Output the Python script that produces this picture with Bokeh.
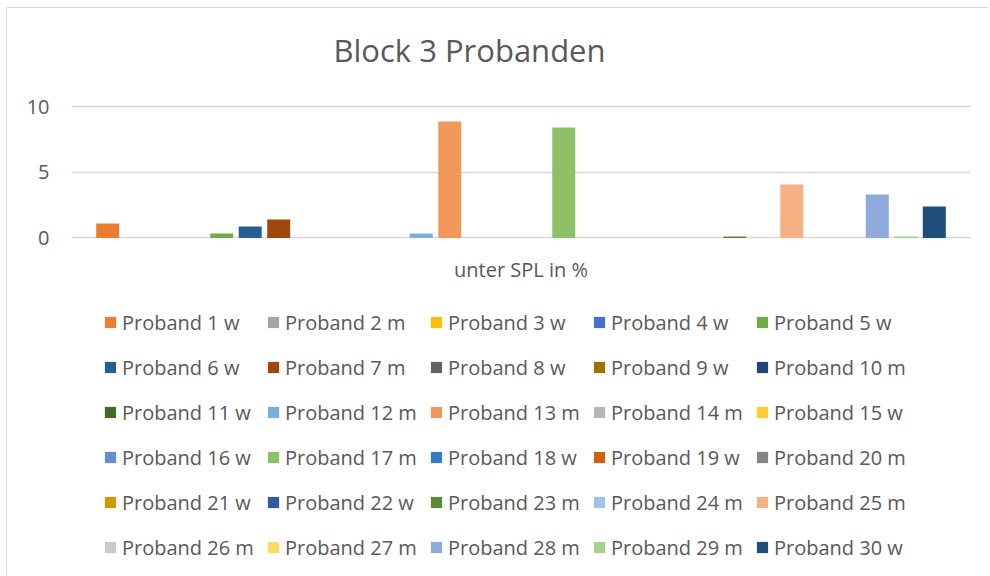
from bokeh.plotting import figure
from bokeh.models import Range1d, FixedTicker, Legend, LegendItem, Label
from bokeh.embed import file_html
from bokeh.resources import INLINE

title_text = "Block 3 Probanden"
categories = ["unter SPL in %"]
probanden = [
    "Proband 1 w", "Proband 2 m", "Proband 3 w", "Proband 4 w", "Proband 5 w",
    "Proband 6 w", "Proband 7 m", "Proband 8 w", "Proband 9 w", "Proband 10 m",
    "Proband 11 w", "Proband 12 m", "Proband 13 m", "Proband 14 m", "Proband 15 w",
    "Proband 16 w", "Proband 17 m", "Proband 18 w", "Proband 19 w", "Proband 20 m",
    "Proband 21 w", "Proband 22 w", "Proband 23 m", "Proband 24 m", "Proband 25 m",
    "Proband 26 m", "Proband 27 m", "Proband 28 m", "Proband 29 m", "Proband 30 w",
]
values = [
    1.1, 0, 0, 0, 0.35,
    0.88, 1.41, 0, 0, 0,
    0, 0.34, 8.89, 0, 0,
    0, 8.44, 0, 0, 0,
    0, 0, 0.12, 0, 4.08,
    0, 0, 3.32, 0.12, 2.4,
]
colors = [
    "#ED7D31", "#A5A5A5", "#FFC000", "#4472C4", "#70AD47",
    "#255E91", "#9E480E", "#636363", "#997300", "#264478",
    "#43682B", "#7CAFDD", "#F1975A", "#B7B7B7", "#FFCD33",
    "#698ED0", "#8CC168", "#327DC2", "#D26012", "#848484",
    "#CC9A00", "#335AA1", "#5A8A39", "#9DC3E6", "#F4B183",
    "#C9C9C9", "#FFD966", "#8FAADC", "#A9D18E", "#1F4E79",
]
y_ticks = [0, 5, 10]

TEXT = "#595959"
GRID = "#D9D9D9"
FONT = "Open Sans"

n = len(probanden)
p = figure(
    width=982, height=568,
    x_range=Range1d(-0.27, n + 1.27),
    y_range=Range1d(-25.84, 16.60),
    x_axis_location=None,
    output_backend="svg", toolbar_location=None,
    min_border_left=64, min_border_right=19,
    min_border_top=12, min_border_bottom=0,
)
p.title.visible = False
p.outline_line_color = None
p.styles = {
    "margin-left": "6px", "margin-top": "7px",
    "border-left": "1px solid #D9D9D9", "border-top": "1px solid #D9D9D9",
}

items = []
for i, (name, val, col) in enumerate(zip(probanden, values, colors)):
    r = p.vbar(x=[i + 1], top=[val], bottom=0, width=0.807,
               fill_color=col, line_color=None)
    items.append(LegendItem(label=name, renderers=[r]))

# y axis
p.yaxis.ticker = FixedTicker(ticks=y_ticks)
p.yaxis.axis_line_color = None
p.yaxis.major_tick_line_color = None
p.yaxis.minor_tick_line_color = None
p.yaxis.major_tick_out = 0
p.yaxis.major_label_standoff = 22
p.yaxis.major_label_text_font = FONT
p.yaxis.major_label_text_font_size = "20px"
p.yaxis.major_label_text_color = TEXT

p.xgrid.visible = False
p.ygrid.ticker = FixedTicker(ticks=y_ticks)
p.ygrid.grid_line_color = GRID
p.ygrid.grid_line_width = 1.3

# category label under the bars
p.add_layout(Label(x=(1 + n) / 2, y=307, x_units="data", y_units="screen",
                   text=categories[0], text_align="center", text_baseline="alphabetic",
                   text_font=FONT, text_font_size="20px", text_color=TEXT))

# title
p.add_layout(Label(x=398, y=527, x_units="screen", y_units="screen",
                   text=title_text, text_align="center", text_baseline="alphabetic",
                   text_font=FONT, text_font_size="31px", text_color=TEXT))

legend = Legend(
    items=items, orientation="horizontal", ncols=5,
    location=(32, 6.5),
    glyph_width=14, glyph_height=14, label_standoff=5,
    label_width=144, label_height=45, spacing=0, padding=0, margin=0,
    label_text_font=FONT, label_text_font_size="20px", label_text_color=TEXT,
    border_line_color=None, background_fill_alpha=0,
)
p.add_layout(legend)

open("out.html", "w").write(file_html(p, INLINE))
